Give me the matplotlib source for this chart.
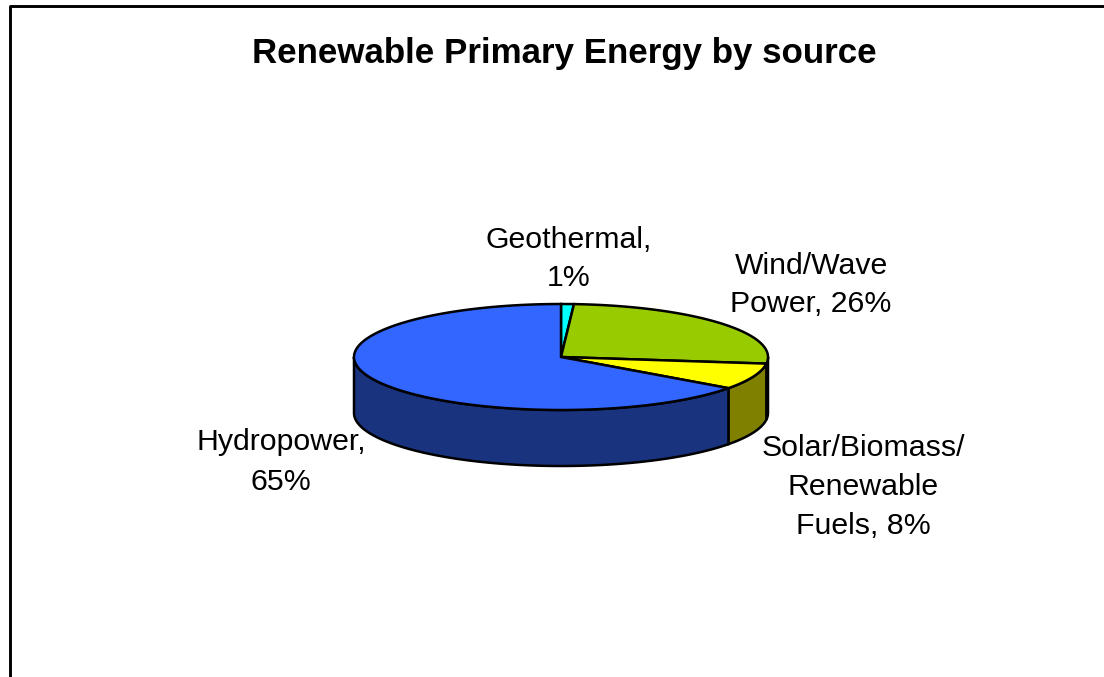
"""Renewable primary energy, drawn as a tilted 3D pie.
"""
import numpy as np
import matplotlib
matplotlib.use('Agg')
import matplotlib.pyplot as plt

labels = ['Geothermal,\n1%', 'Wind/Wave\nPower, 26%',
          'Solar/Biomass/\nRenewable\nFuels, 8%', 'Hydropower,\n65%']
values = [1, 26, 8, 65]
top_colors = ['#00ffff', '#99cc00', '#ffff00', '#3366ff']
side_colors = ['#008080', '#4d6600', '#808000', '#1a337f']
title = 'Renewable Primary Energy by source'

plt.rcParams['font.family'] = ['Liberation Sans', 'DejaVu Sans']

#pie geometry in image pixels
cx, cy = 561, 357
rx, ry = 207, 53
depth = 56
lw = 1.8


def rim(a0, a1):
    """points of the top ellipse, angles clockwise from 12 o'clock"""
    t = np.linspace(a0, a1, max(int(abs(a1 - a0) * 60), 2))
    return cx + rx * np.sin(t), cy - ry * np.cos(t)


fig = plt.figure(figsize=(11.04, 6.77), dpi=100)
ax = fig.add_axes([0, 0, 1, 1])
ax.set_xlim(0, 1104)
ax.set_ylim(677, 0)
ax.axis('off')

#chart frame, open at the bottom and right as in the source crop
ax.plot([9.5, 9.5, 1104], [677, 5.5, 5.5], color='black', lw=2.1, zorder=1)

edges = np.concatenate([[0], np.cumsum(values)]) / sum(values) * 2 * np.pi

#side walls first, only the part that faces the viewer
for i in range(len(values)):
    a0 = max(edges[i], np.pi / 2)
    a1 = min(edges[i + 1], 3 * np.pi / 2)
    if a1 <= a0:
        continue
    x, y = rim(a0, a1)
    ax.fill(np.concatenate([x, x[::-1]]), np.concatenate([y, y[::-1] + depth]),
            facecolor=side_colors[i], edgecolor='black', lw=lw, zorder=2)

#top faces
for i in range(len(values)):
    x, y = rim(edges[i], edges[i + 1])
    ax.fill(np.concatenate([[cx], x]), np.concatenate([[cy], y]),
            facecolor=top_colors[i], edgecolor='black', lw=lw, zorder=3)

ax.text(564, 53, title, ha='center', va='center', fontsize=25.1,
        fontweight='bold')
label_pos = [(569, 259), (811, 285), (863, 487), (281, 462)]
for text, (lx, ly) in zip(labels, label_pos):
    ax.text(lx, ly, text, ha='center', va='center', fontsize=21.8,
            linespacing=1.5)

fig.savefig('out.png', dpi=100)
